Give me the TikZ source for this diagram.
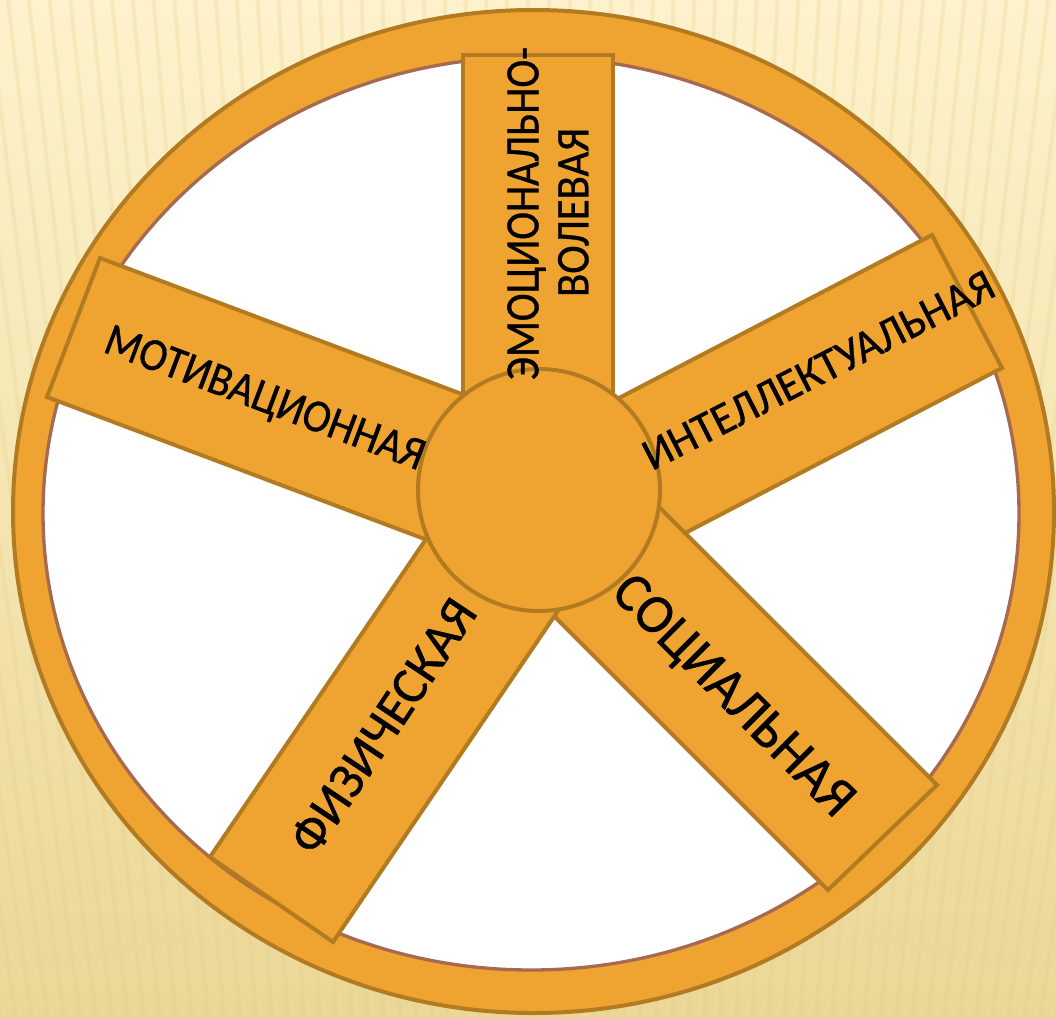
\documentclass[tikz,border=0pt]{standalone}
\usepackage{fontspec}
\setmainfont{Carlito}
\newfontfamily\wheelfont{Carlito}[FakeBold=0.8]
\usepackage{graphicx}
\definecolor{wheelfill}{HTML}{EFA330}
\definecolor{wheeledge}{HTML}{B27B21}
\definecolor{rimline}{HTML}{A66A50}
\definecolor{bgtop}{HTML}{FDF2CC}
\definecolor{bgbot}{HTML}{EBD796}
\definecolor{stripe}{HTML}{E6CC85}
\begin{document}
\begin{tikzpicture}[x=0.75pt,y=-0.75pt,
  spoke/.style={fill=wheelfill, draw=wheeledge, line width=3pt, line join=miter},
  lbl/.style={anchor=base, inner sep=0pt, text=black, font=\wheelfont}]
\useasboundingbox (0,0) rectangle (1056,1017);
\clip (0,0) rectangle (1056,1017);
% background
\shade[top color=bgtop, bottom color=bgbot] (0,0) rectangle (1056,1017);
\foreach \i in {-20,...,80}{
  \draw[stripe, line width=3pt, opacity=0.22] ({\i*16},1017) -- ({528+(\i*16-528)*1.3},0);
}
% rim
\draw[fill=wheelfill, draw=wheeledge, line width=3pt] (533.5,511.5) ellipse [x radius=520.5, y radius=501.5];
\draw[fill=white, draw=rimline, line width=2.5pt] (531,513.5) ellipse [x radius=488, y radius=456.5];
% spokes
\draw[spoke] (100,258) -- (47,397) -- (508.4,570.5) -- (561.4,431.5) -- cycle;
\draw[spoke] (463,55) -- (613,55) -- (613,490) -- (463,490) -- cycle;
\draw[spoke] (932,235) -- (1002,368) -- (588,583.6) -- (518,450.6) -- cycle;
\draw[spoke] (937,785) -- (828,890) -- (482.6,544.6) -- (591.6,439.6) -- cycle;
\draw[spoke] (210,857) -- (333,942) -- (607.8,537.6) -- (484.8,452.6) -- cycle;
% hub
\node (hub) [circle, fill=wheelfill, draw=wheeledge, line width=3pt, minimum size=181.5pt, inner sep=0pt] at (539,490) {};
% labels
\node (tmot) [lbl, rotate=-20.6] at (260,411) {\resizebox{253.5pt}{22.5pt}{МОТИВАЦИОННАЯ}};
\node (tint) [lbl, rotate=27] at (825,383) {\resizebox{291pt}{21.75pt}{ИНТЕЛЛЕКТУАЛЬНАЯ}};
\node (tsoc) [lbl, rotate=-45] at (722,707) {\resizebox{238.5pt}{27pt}{СОЦИАЛЬНАЯ}};
\node (tphy) [lbl, rotate=56.3] at (397,735.5) {\resizebox{220.9pt}{26pt}{ФИЗИЧЕСКАЯ}};
\node (temo1) [lbl, rotate=90] at (538.3,213.5) {\resizebox{249.75pt}{23.25pt}{ЭМОЦИОНАЛЬНО-}};
\node (temo2) [lbl, rotate=90] at (588.3,212.5) {\resizebox{126.75pt}{22.75pt}{ВОЛЕВАЯ}};
\end{tikzpicture}
\end{document}
